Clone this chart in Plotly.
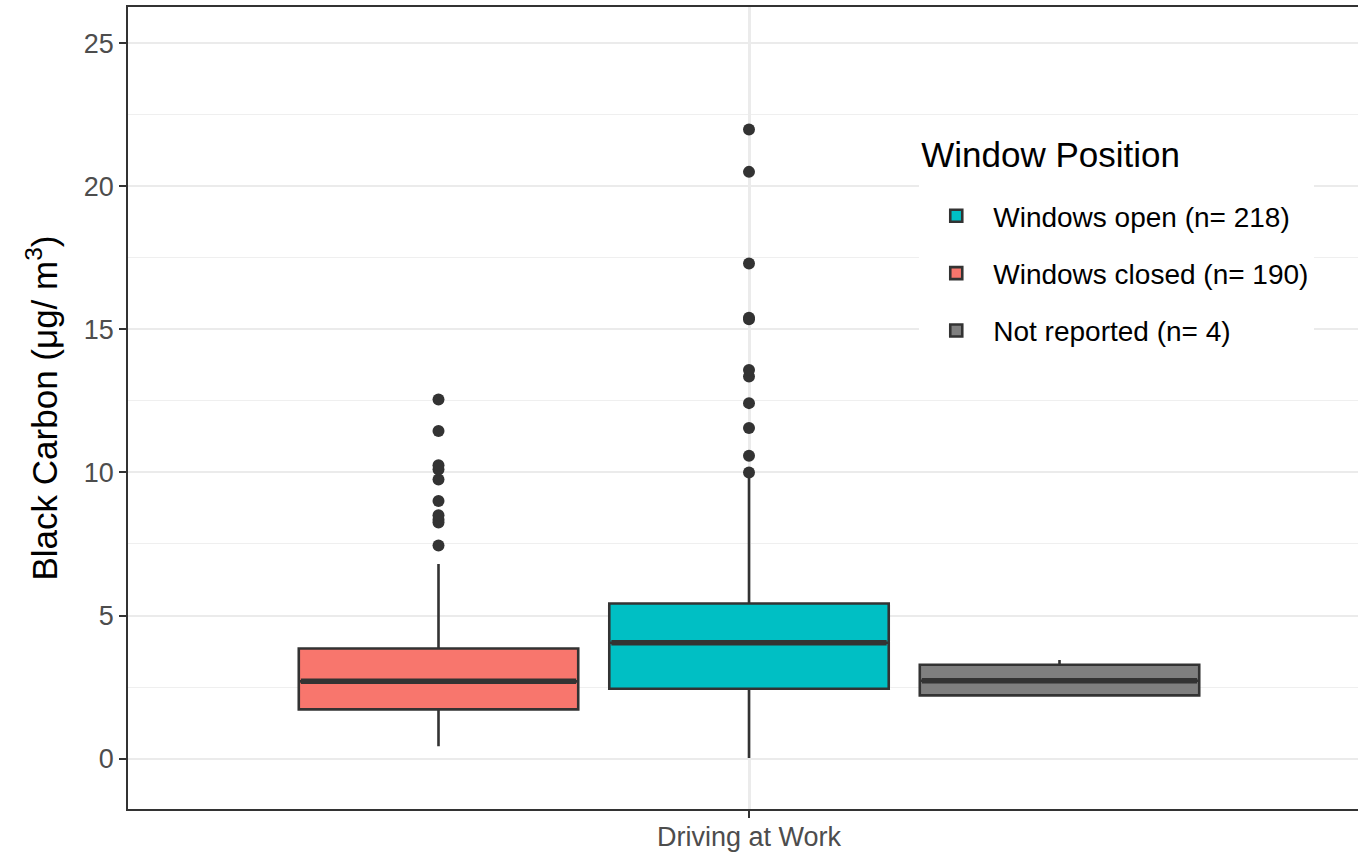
import plotly.graph_objects as go

# Window-position groups (legend order: open, closed, not reported)
groups = ["Windows closed (n= 190)", "Windows open (n= 218)", "Not reported (n= 4)"]
group_pos = [-0.3, 0.0, 0.3]
legend_rank = [2, 1, 3]
fill_colors = ["#F8766D", "#00BFC4", "#7F7F7F"]

# Box statistics for black carbon (µg/m³)
q1 = [1.72, 2.44, 2.21]
median = [2.70, 4.05, 2.72]
q3 = [3.85, 5.42, 3.28]
lower_fence = [0.43, 0.02, 2.21]
upper_fence = [6.80, 9.98, 3.45]

# Points beyond the whiskers
outliers_closed = [7.45, 8.25, 8.35, 8.5, 9.0, 9.75, 10.1, 10.25, 11.45, 12.55]
outliers_open = [10.0, 10.58, 11.55, 12.42, 13.35, 13.58, 15.35, 15.4, 17.3, 20.5, 21.98]
outliers_not_reported = []
outliers = [outliers_closed, outliers_open, outliers_not_reported]

category = "Driving at Work"
y_ticks = [0, 5, 10, 15, 20, 25]
y_minor = [-2.5, 2.5, 7.5, 12.5, 17.5, 22.5]

BOX_WIDTH = 0.27
INK = "#333333"
FONT = "Arial, Liberation Sans, sans-serif"

fig = go.Figure()

for i, name in enumerate(groups):
    # a small blank group heading opens up space under the legend title
    spacer = dict(text="\u00a0", font=dict(size=16)) if legend_rank[i] == 1 else None
    fig.add_trace(go.Box(
        x=[group_pos[i]], q1=[q1[i]], median=[median[i]], q3=[q3[i]],
        lowerfence=[lower_fence[i]], upperfence=[upper_fence[i]],
        name=name, legendgroup=name, legendrank=legend_rank[i],
        legendgrouptitle=spacer,
        width=BOX_WIDTH, whiskerwidth=0, boxpoints=False,
        fillcolor=fill_colors[i], line=dict(color=INK, width=2.6),
        hoverinfo="skip",
    ))

# Heavier median bars and outlier dots
for i, name in enumerate(groups):
    c = group_pos[i]
    fig.add_trace(go.Scatter(
        x=[c - BOX_WIDTH / 2 + 0.002, c + BOX_WIDTH / 2 - 0.002],
        y=[median[i], median[i]], mode="lines",
        line=dict(color=INK, width=5.5), showlegend=False,
        legendgroup=name, hoverinfo="skip",
    ))
    if outliers[i]:
        fig.add_trace(go.Scatter(
            x=[c] * len(outliers[i]), y=outliers[i], mode="markers",
            marker=dict(color=INK, size=12), showlegend=False,
            legendgroup=name, hoverinfo="skip",
        ))

fig.update_layout(
    width=1358, height=853,
    margin=dict(l=128, r=0, t=7, b=44, autoexpand=False),
    paper_bgcolor="white", plot_bgcolor="white",
    font=dict(family=FONT, color="black"),
    showlegend=True,
    boxmode="overlay",
    legend=dict(
        title=dict(text="Window Position", font=dict(size=35, color="black")),
        font=dict(size=28, color="black"),
        x=0.6433, xanchor="left", y=0.857, yanchor="top",
        bgcolor="white", itemwidth=64,
        traceorder="grouped", tracegroupgap=18,
    ),
    xaxis=dict(
        range=[-0.6, 0.5884], tickmode="array", tickvals=[0], ticktext=[category],
        automargin=False,
        showgrid=True, gridcolor="#EBEBEB", gridwidth=2.5,
        zeroline=False, showline=True, mirror=True, linecolor=INK, linewidth=1.6,
        ticks="outside", ticklen=7, tickwidth=2, tickcolor=INK,
        ticklabelstandoff=-4,
        tickfont=dict(size=27, color="#4D4D4D", family=FONT),
    ),
    yaxis=dict(
        range=[-1.76, 26.26], tickmode="array", tickvals=y_ticks,
        automargin=False,
        showgrid=True, gridcolor="#EBEBEB", gridwidth=2.2,
        minor=dict(tickmode="array", tickvals=y_minor, showgrid=True,
                   gridcolor="#EFEFEF", gridwidth=1.2),
        zeroline=False, showline=True, mirror=False, linecolor=INK, linewidth=1.6,
        ticks="outside", ticklen=7, tickwidth=2, tickcolor=INK,
        tickfont=dict(size=27, color="#4D4D4D", family=FONT),
        title=dict(text="Black Carbon (μg/ m<sup>3</sup>)",
                   font=dict(size=35, color="black", family=FONT), standoff=16),
    ),
)

fig.write_html("out.html")
